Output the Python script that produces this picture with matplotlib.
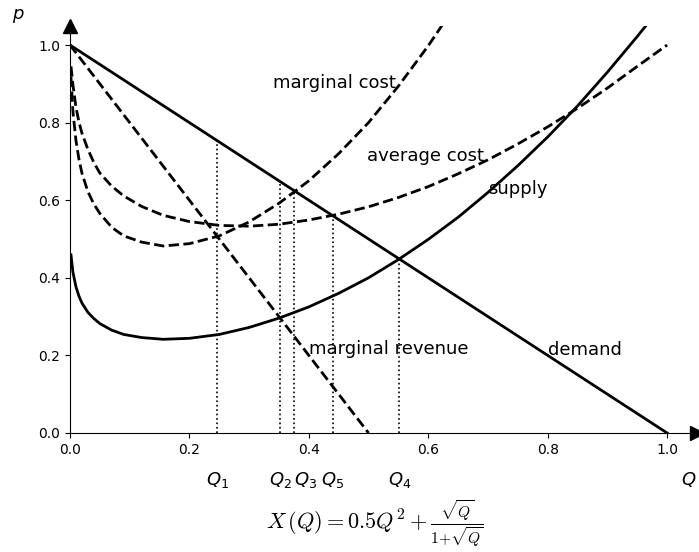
import matplotlib
matplotlib.use("Agg")
import matplotlib.pyplot as plt

# demand and marginal revenue
q_lin = [0.0, 1.0]
demand = [1.0, 0.0]
q_mr = [0.0, 0.5]
marg_rev = [1.0, 0.0]

# cost curves, values
q_cost = [0.0017, 0.005, 0.01, 0.015, 0.02, 0.03, 0.04, 0.05, 0.07, 0.09,
          0.12, 0.156, 0.2, 0.25, 0.3, 0.35, 0.4, 0.45, 0.5, 0.55,
          0.6, 0.65, 0.7, 0.75, 0.8, 0.85, 0.9, 0.95, 1.0]
supply = [0.459, 0.414, 0.377, 0.353, 0.335, 0.311, 0.295, 0.282, 0.265, 0.254,
          0.246, 0.2415, 0.244, 0.254, 0.272, 0.296, 0.325, 0.360, 0.400, 0.447,
          0.499, 0.556, 0.620, 0.689, 0.763, 0.843, 0.930, 1.022, 1.118]
avg_cost = [0.945, 0.897, 0.840, 0.802, 0.773, 0.731, 0.697, 0.670, 0.636, 0.611,
            0.584, 0.561, 0.545, 0.535, 0.533, 0.538, 0.549, 0.564, 0.583, 0.607,
            0.635, 0.668, 0.704, 0.745, 0.789, 0.837, 0.889, 0.945, 1.0]
q_mc = q_cost[:22]
marg_cost = [0.918, 0.828, 0.754, 0.706, 0.670, 0.622, 0.590, 0.566, 0.530, 0.508,
             0.492, 0.482, 0.488, 0.508, 0.544, 0.592, 0.650, 0.720, 0.800, 0.894,
             0.998, 1.112]

# marked quantities and where their dotted lines stop
q_marks = [0.247, 0.352, 0.376, 0.5515, 0.4405]
q_tops = [0.753, 0.648, 0.624, 0.449, 0.56]
q_names = ["$Q_1$", "$Q_2$", "$Q_3$", "$Q_4$", "$Q_5$"]

fig = plt.figure(figsize=(6.99, 5.52), dpi=100)
ax = fig.add_axes([0.1001, 0.2156, 0.897, 0.738])

ax.plot(q_lin, demand, color="k", lw=2)
ax.plot(q_cost, supply, color="k", lw=2)
ax.plot(q_mr, marg_rev, color="k", lw=2, ls="--")
ax.plot(q_mc, marg_cost, color="k", lw=2, ls="--")
ax.plot(q_cost, avg_cost, color="k", lw=2, ls="--")
ax.vlines(q_marks, 0, q_tops, colors="k", linestyles="dotted", lw=1.2)

ax.text(0.34, 0.89, "marginal cost", fontsize=13)
ax.text(0.497, 0.70, "average cost", fontsize=13)
ax.text(0.70, 0.615, "supply", fontsize=13)
ax.text(0.40, 0.203, "marginal revenue", fontsize=13)
ax.text(0.80, 0.201, "demand", fontsize=13)

for q, name in zip(q_marks, q_names):
    ha = "left" if name == "$Q_3$" else "center"
    ax.text(q, -0.12, name, ha=ha, va="center", fontsize=13)
ax.text(1.037, -0.12, "$Q$", ha="center", va="center", fontsize=13)
ax.text(-0.087, 1.075, "$p$", ha="center", va="center", fontsize=13)
ax.text(0.51, -0.235,
        r"$X\,(Q) = 0.5Q^2 + \frac{\sqrt{Q}}{1{+}\sqrt{Q}}$",
        ha="center", va="center", fontsize=16, math_fontfamily="cm")

ax.set_xlim(0, 1.05)
ax.set_ylim(0, 1.05)
ax.set_xticks([0.0, 0.2, 0.4, 0.6, 0.8, 1.0])
ax.set_yticks([0.0, 0.2, 0.4, 0.6, 0.8, 1.0])
ax.spines["top"].set_visible(False)
ax.spines["right"].set_visible(False)
ax.plot(1.05, 0, ">k", ms=10, clip_on=False)
ax.plot(0, 1.05, "^k", ms=10, clip_on=False)

fig.savefig("out.png", dpi=100)
